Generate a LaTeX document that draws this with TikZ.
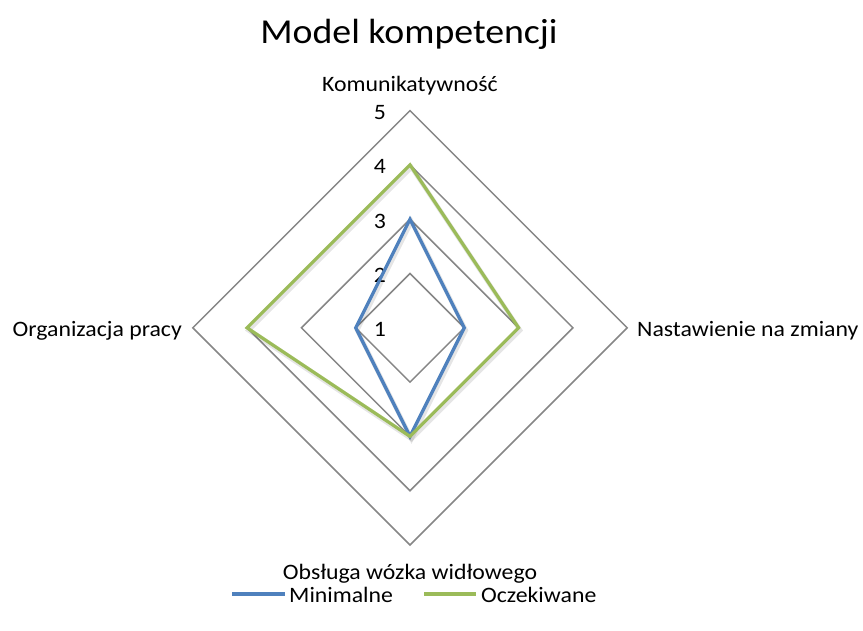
\documentclass[tikz,border=0pt]{standalone}
\usepackage{fontspec}
\setmainfont{Carlito}[FakeStretch=1.08]
\definecolor{gridgray}{HTML}{868686}
\definecolor{serblue}{HTML}{4F81BD}
\definecolor{sergreen}{HTML}{9BBB59}
\begin{document}
\begin{tikzpicture}[x=1pt,y=-1pt,
  gridline/.style={draw=gridgray,line width=1.5pt,line join=miter},
  series/.style={line width=3.3pt,line join=miter},
  shadowline/.style={line width=4.5pt,draw=black,opacity=0.10,line join=miter},
  lab/.style={font=\fontsize{22}{26}\selectfont,inner sep=0pt},
  ticklab/.style={lab,anchor=base east},
  titlelab/.style={font=\fontsize{35}{40}\selectfont,inner sep=0pt,anchor=base}]
  \useasboundingbox (0,0) rectangle (863,630);
  % chart centre and scale: value v lies (v-1)*54.3 from the centre
  \def\cx{410}\def\cy{327.8}\def\u{54.3}
  % radial coordinates of the four axes
  \newcommand{\rtop}[1]{(\cx,{\cy-(#1-1)*\u})}
  \newcommand{\rright}[1]{({\cx+(#1-1)*\u},\cy)}
  \newcommand{\rbottom}[1]{(\cx,{\cy+(#1-1)*\u})}
  \newcommand{\rleft}[1]{({\cx-(#1-1)*\u},\cy)}

  % grid diamonds
  \foreach \v in {2,...,5}
    \draw[gridline] \rtop{\v} -- \rright{\v} -- \rbottom{\v} -- \rleft{\v} -- cycle;

  % axis values
  \foreach \v in {1,...,5}
    \node[ticklab] (tick\v) at (386,{336.7-(\v-1)*\u}) {\v};

  % series: Minimalne
  \begin{scope}[shift={(1.5,2.5)}]
    \draw[shadowline] \rtop{3} -- \rright{2} -- \rbottom{3} -- \rleft{2} -- cycle;
  \end{scope}
  \draw[series,serblue] \rtop{3} -- \rright{2} -- \rbottom{3} -- \rleft{2} -- cycle;

  % series: Oczekiwane
  \begin{scope}[shift={(1.5,2.5)}]
    \draw[shadowline] \rtop{4} -- \rright{3} -- \rbottom{3} -- \rleft{4} -- cycle;
  \end{scope}
  \draw[series,sergreen] \rtop{4} -- \rright{3} -- \rbottom{3} -- \rleft{4} -- cycle;

  % title and category labels
  \node[titlelab] (title) at (409,43.3) {Model kompetencji};
  \node[lab,anchor=base] (komm) at (410,91.5) {Komunikatywność};
  \node[lab,anchor=base west] (nast) at (637,336.5) {Nastawienie na zmiany};
  \node[lab,anchor=base] (obsl) at (410,579.5) {Obsługa wózka widłowego};
  \node[lab,anchor=base east] (orga) at (182,336.5) {Organizacja pracy};

  % legend
  \coordinate (legAa) at (232,594);
  \coordinate (legAb) at (285,594);
  \coordinate (legBa) at (424,594);
  \coordinate (legBb) at (476,594);
  \draw[series,serblue] (legAa) -- (legAb);
  \node[lab,anchor=base west] (legA) at (289,602) {Minimalne};
  \draw[series,sergreen] (legBa) -- (legBb);
  \node[lab,anchor=base west] (legB) at (481,602) {Oczekiwane};
\end{tikzpicture}
\end{document}
